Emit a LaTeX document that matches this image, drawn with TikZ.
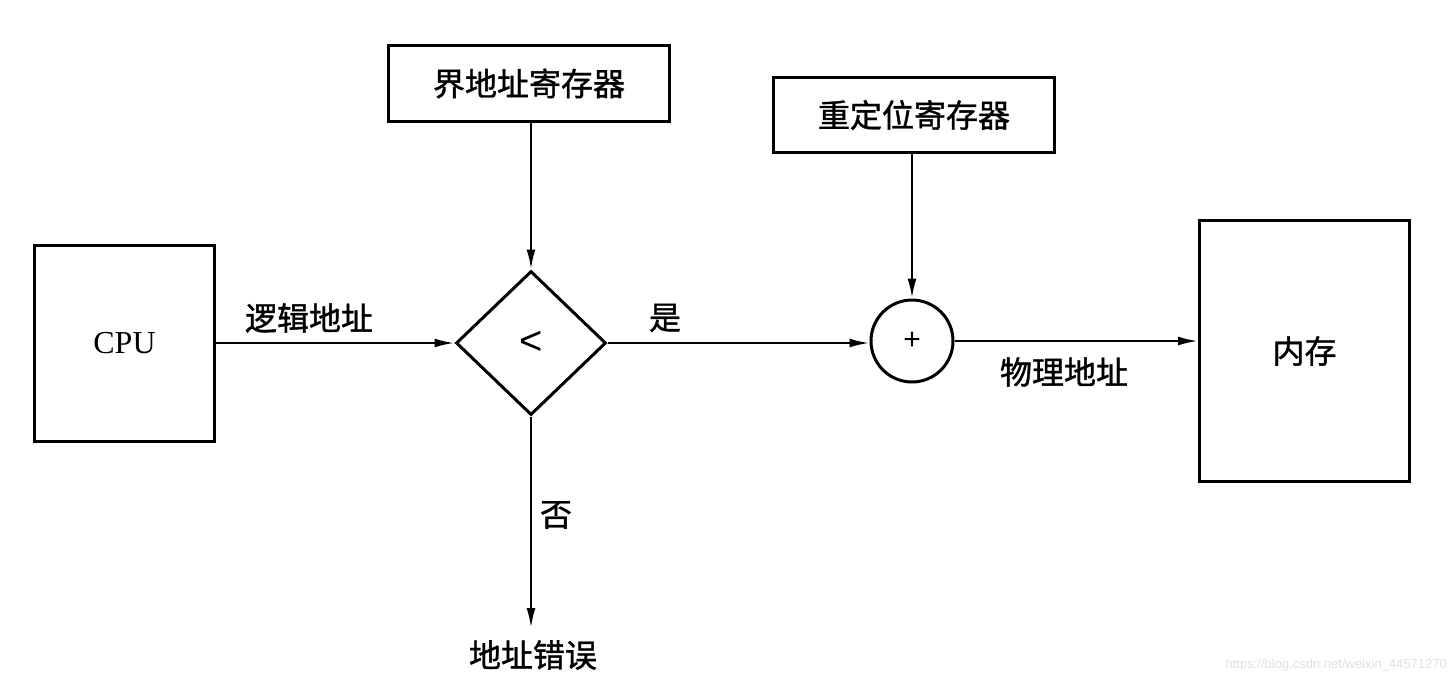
\documentclass[tikz,border=0pt]{standalone}
\usepackage{fontspec}
\newfontfamily\cjk[FakeBold=1.2]{Noto Sans CJK SC}
\newfontfamily\wm{Liberation Sans}
\newfontfamily\serifb{Liberation Serif}
\usetikzlibrary{shapes.geometric,arrows.meta}
\begin{document}
\begin{tikzpicture}[x=1pt,y=-1pt,
  box/.style={draw,line width=3pt,inner sep=0pt,anchor=north west},
  lab/.style={font=\cjk\fontsize{32}{36}\selectfont,inner sep=0pt},
  conn/.style={draw,line width=2.4pt,-{Latex[length=20pt,width=9pt]}}]
\useasboundingbox (0,0) rectangle (1456,686);
\node[box,minimum width=180pt,minimum height=196pt] (cpu) at (33,244) {};
\node[font=\serifb\fontsize{32}{36}\selectfont] at (cpu.center) {CPU};
\node[box,minimum width=281pt,minimum height=76pt] (bound) at (387,44) {};
\node[lab] at (bound.center) {界地址寄存器};
\node[box,minimum width=281pt,minimum height=75pt] (reloc) at (772,76) {};
\node[lab] at (reloc.center) {重定位寄存器};
\node[box,minimum width=210pt,minimum height=261pt] (mem) at (1198,219) {};
\node[lab] at (mem.center) {内存};
\node[draw,diamond,line width=3pt,minimum width=150pt,minimum height=144pt,inner sep=0pt] (cmp) at (531,343) {};
\node[font=\wm\fontsize{40}{44}\selectfont] at (cmp.center) {<};
\node[draw,circle,line width=3pt,minimum size=82pt,inner sep=0pt] (add) at (912,341) {};
\node[font=\wm\fontsize{30}{34}\selectfont] at (add.center) {+};
\node[lab] (err) at (533,655) {地址错误};
\coordinate (errtop) at (531,628);
\draw[conn] (cpu.east |- cmp.west) -- (cmp.west);
\draw[conn] (bound.south -| cmp.north) -- (cmp.north);
\draw[conn] (cmp.east) -- (add.west |- cmp.east);
\draw[conn] (reloc.south -| add.north) -- (add.north);
\draw[conn] (add.east) -- (mem.west |- add.east);
\draw[conn] (cmp.south) -- (errtop);
\node[lab] at (309,318) {逻辑地址};
\node[lab] at (665,318) {是};
\node[lab] at (1064,372) {物理地址};
\node[lab] at (556,515) {否};
\node[font=\wm\fontsize{13}{15}\selectfont,text=black!12,anchor=east,inner sep=0pt] (mark) at (1447,665) {https://blog.csdn.net/weixin\_44571270};
\end{tikzpicture}
\end{document}
